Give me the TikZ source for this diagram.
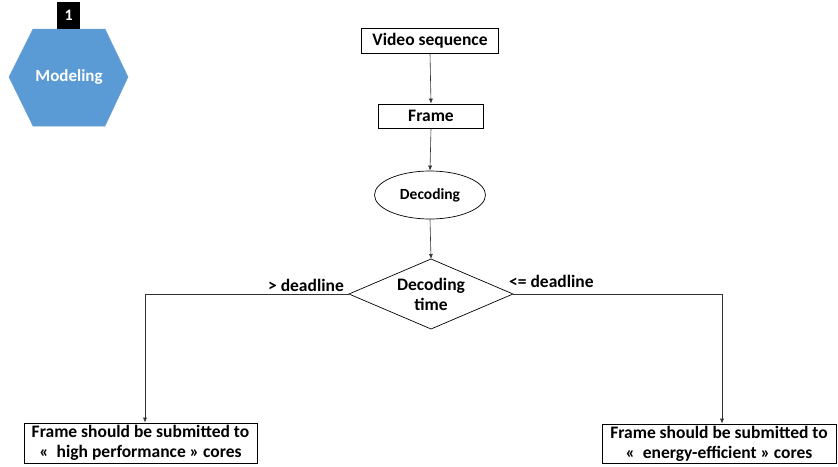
\documentclass[tikz,border=0pt]{standalone}
\usepackage{fontspec}
\setmainfont{Carlito}
\usetikzlibrary{shapes.geometric,arrows.meta}
\definecolor{hexblue}{HTML}{5B9BD5}
\definecolor{hexedge}{HTML}{6A9FD2}
\tikzset{
  txt/.style={font=\bfseries\fontsize{17.5}{20}\selectfont},
  stepbox/.style={draw, line width=0.7pt, txt, inner sep=0pt, align=center},
  conn/.style={line width=0.6pt, draw=black!80},
  arr/.style={conn, -{Latex[length=5pt,width=4pt]}},
}
\begin{document}
\begin{tikzpicture}[x=1pt,y=-1pt]
\useasboundingbox (0,0) rectangle (838,466);
% modeling hexagon
\fill[hexblue, draw=hexedge, line width=0.5pt] (9,77) -- (33,29) -- (105,29) -- (128,77) -- (105,126) -- (33,126) -- cycle;
\node[txt, text=white, font=\bfseries\fontsize{17}{20}\selectfont] (model) at (69,77) {Modeling};
\node[fill=black, text=white, txt, font=\bfseries\fontsize{16}{18}\selectfont, minimum width=23pt, minimum height=27pt, inner sep=0pt, anchor=north west] (tag) at (57,2) {1};
% flow
\node[stepbox, minimum width=137pt, minimum height=25pt] (video) at (430,40.5) {Video sequence};
\node[stepbox, minimum width=105pt, minimum height=24pt] (frame) at (431,116) {Frame};
\node[draw, ellipse, line width=0.7pt, minimum width=111pt, minimum height=48pt, inner sep=0pt, font=\bfseries\fontsize{15.5}{18}\selectfont] (dec) at (430,195) {Decoding};
\node[draw, diamond, shape aspect=2.34, line width=0.7pt, minimum width=164pt, minimum height=70pt, inner sep=0pt, outer sep=0pt, txt, align=center, text depth=0pt] (time) at (431,294) {Decoding\\time};
\node[stepbox, minimum width=233pt, minimum height=40pt] (hp) at (140.5,443) {Frame should be submitted to\\«~~high performance » cores};
\node[stepbox, minimum width=234pt, minimum height=39pt] (ee) at (719,443.5) {Frame should be submitted to\\«~~energy-efficient » cores};
\coordinate (lc) at (145,294);
\coordinate (rc) at (722,294);
\draw[arr] (video.south) -- (frame.north);
\draw[arr] (frame.south) -- (dec.north);
\draw[arr] (dec.south) -- (time.north);
\draw[arr] (time.west) -- (lc) -- (lc |- hp.north);
\draw[arr] (time.east) -- (rc) -- (rc |- ee.north);
\node[txt, anchor=east, inner sep=0pt] (lgt) at (344,285) {> deadline};
\node[txt, anchor=west, inner sep=0pt] (lle) at (509,281) {<= deadline};
\end{tikzpicture}
\end{document}
